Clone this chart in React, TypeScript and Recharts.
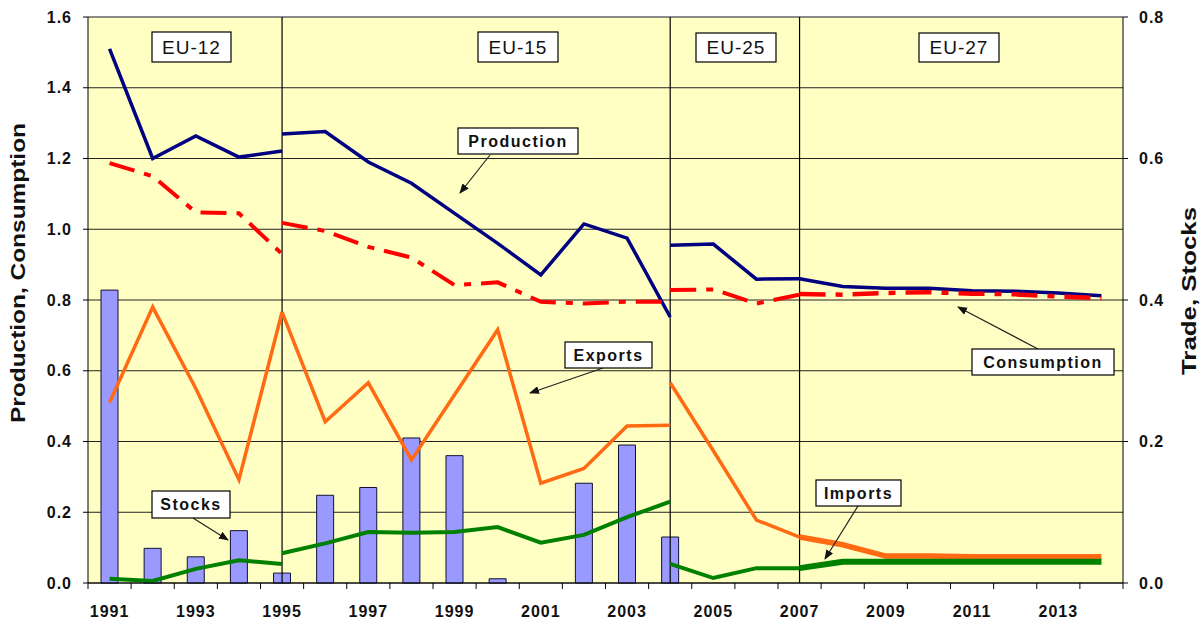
import React from 'react';
import { ComposedChart, Bar, Line, XAxis, YAxis, CartesianGrid, ReferenceLine } from 'recharts';

const years = [
  '1991', '1992', '1993', '1994', '1995', '1996', '1997', '1998', '1999', '2000', '2001', '2002',
  '2003', '2004', '2005', '2006', '2007', '2008', '2009', '2010', '2011', '2012', '2013', '2014',
];

// each era is its own segment: EU-12 1991-95, EU-15 1995-2004, EU-25 2004-07, EU-27 2007-14
const productionEU12 = [1.51, 1.2, 1.264, 1.204, 1.221];
const productionEU15 = [1.269, 1.276, 1.19, 1.13, 1.045, 0.96, 0.871, 1.015, 0.975, 0.752];
const productionEU25 = [0.955, 0.958, 0.859, 0.86];
const productionEU27 = [0.86, 0.838, 0.833, 0.833, 0.826, 0.825, 0.82, 0.812];

const consumptionEU12 = [1.187, 1.15, 1.048, 1.045, 0.93];
const consumptionEU15 = [1.018, 0.995, 0.95, 0.92, 0.842, 0.85, 0.795, 0.79, 0.795, 0.795];
const consumptionEU25 = [0.828, 0.83, 0.79, 0.815];
const consumptionEU27 = [0.817, 0.815, 0.82, 0.822, 0.818, 0.816, 0.81, 0.805];

const exportsEU12 = [0.255, 0.39, 0.275, 0.146, 0.383];
const exportsEU15 = [0.383, 0.228, 0.283, 0.174, 0.266, 0.358, 0.141, 0.162, 0.222, 0.223];
const exportsEU25 = [0.283, 0.187, 0.089, 0.065];
const exportsEU27 = [0.065, 0.054, 0.038, 0.038, 0.037, 0.037, 0.037, 0.037];

const importsEU12 = [0.006, 0.003, 0.02, 0.032, 0.027];
const importsEU15 = [0.042, 0.056, 0.072, 0.071, 0.072, 0.079, 0.057, 0.068, 0.093, 0.115];
const importsEU25 = [0.027, 0.007, 0.021, 0.021];
const importsEU27 = [0.021, 0.03, 0.03, 0.03, 0.03, 0.03, 0.03, 0.03];

const stocks = [
  0.414, 0.049, 0.037, 0.074, 0.014, 0.124, 0.135, 0.205, 0.18, 0.006, null, 0.141,
  0.195, 0.065, null, null, null, null, null, null, null, null, null, null,
];

const leftTicks = [0, 0.2, 0.4, 0.6, 0.8, 1.0, 1.2, 1.4, 1.6];
const rightTicks = [0, 0.2, 0.4, 0.6, 0.8];

const W = 1203;
const H = 621;
const PLOT_LEFT = 88;
const PLOT_RIGHT = 1123;
const PLOT_TOP = 17;
const PLOT_BOTTOM = 583;
const BAND = (PLOT_RIGHT - PLOT_LEFT) / years.length;
const FONT = '"Liberation Sans", Arial, sans-serif';

const place = (values: number[], start: string) => {
  const s = years.indexOf(start);
  return years.map((_, i) => (i >= s && i - s < values.length ? values[i - s] : null));
};

const series: Record<string, (number | null)[]> = {
  prod12: place(productionEU12, '1991'),
  prod15: place(productionEU15, '1995'),
  prod25: place(productionEU25, '2004'),
  prod27: place(productionEU27, '2007'),
  cons12: place(consumptionEU12, '1991'),
  cons15: place(consumptionEU15, '1995'),
  cons25: place(consumptionEU25, '2004'),
  cons27: place(consumptionEU27, '2007'),
  exp12: place(exportsEU12, '1991'),
  exp15: place(exportsEU15, '1995'),
  exp25: place(exportsEU25, '2004'),
  exp27: place(exportsEU27, '2007'),
  imp12: place(importsEU12, '1991'),
  imp15: place(importsEU15, '1995'),
  imp25: place(importsEU25, '2004'),
  imp27: place(importsEU27, '2007'),
};

const data = years.map((year, i) => {
  const row: Record<string, string | number | null> = { year, stocks: stocks[i] };
  Object.keys(series).forEach((k) => {
    row[k] = series[k][i];
  });
  return row;
});

function YearTick(props: any) {
  const { x, payload, index } = props;
  const left = x - BAND / 2;
  return (
    <g>
      <line x1={left} x2={left} y1={PLOT_BOTTOM} y2={PLOT_BOTTOM + 6} stroke="#000" />
      {index === years.length - 1 && (
        <line x1={x + BAND / 2} x2={x + BAND / 2} y1={PLOT_BOTTOM} y2={PLOT_BOTTOM + 6} stroke="#000" />
      )}
      {index % 2 === 0 && (
        <text
          x={x}
          y={617}
          textAnchor="middle"
          fontFamily={FONT}
          fontWeight="bold"
          fontSize={16}
          letterSpacing={1}
          fill="#111"
        >
          {payload.value}
        </text>
      )}
    </g>
  );
}

const tickStyle = { fontFamily: FONT, fontWeight: 'bold', fontSize: 16, fill: '#111', letterSpacing: 1 };

function Box({ x, y, w, h, text, bold = true, size = 16 }: any) {
  return (
    <g>
      <rect x={x} y={y} width={w} height={h} fill="#fff" stroke="#000" strokeWidth={1.2} />
      <text
        x={x + w / 2}
        y={y + h / 2 + size * 0.36}
        textAnchor="middle"
        fontFamily={FONT}
        fontWeight={bold ? 'bold' : 'normal'}
        fontSize={size}
        letterSpacing={bold ? 1.5 : 1}
        fill="#111"
      >
        {text}
      </text>
    </g>
  );
}

function Arrow({ x1, y1, x2, y2 }: any) {
  return <line x1={x1} y1={y1} x2={x2} y2={y2} stroke="#222" strokeWidth={1.2} markerEnd="url(#head)" />;
}

function Annotations() {
  return (
    <svg width={W} height={H} style={{ position: 'absolute', left: 0, top: 0, pointerEvents: 'none' }}>
      <defs>
        <marker id="head" markerWidth="10" markerHeight="8" refX="9" refY="4" orient="auto" markerUnits="userSpaceOnUse">
          <path d="M0,0 L10,4 L0,8 Z" fill="#111" />
        </marker>
      </defs>
      <text
        transform="translate(25,273) rotate(-90)"
        textAnchor="middle"
        fontFamily={FONT}
        fontWeight="bold"
        fontSize={20}
        textLength={300}
        lengthAdjust="spacingAndGlyphs"
        fill="#111"
      >
        Production, Consumption
      </text>
      <text
        transform="translate(1196,291) rotate(-90)"
        textAnchor="middle"
        fontFamily={FONT}
        fontWeight="bold"
        fontSize={21}
        textLength={168}
        lengthAdjust="spacingAndGlyphs"
        fill="#111"
      >
        Trade, Stocks
      </text>

      <Box x={152} y={32} w={79} h={30} text="EU-12" bold={false} size={19} />
      <Box x={478} y={32} w={80} h={30} text="EU-15" bold={false} size={19} />
      <Box x={696} y={33} w={80} h={29} text="EU-25" bold={false} size={19} />
      <Box x={919} y={33} w={80} h={29} text="EU-27" bold={false} size={19} />

      <Arrow x1={490} y1={155} x2={460} y2={193} />
      <Arrow x1={603} y1={368} x2={530} y2={393} />
      <Arrow x1={1038} y1={349} x2={958} y2={307} />
      <Arrow x1={193} y1={518} x2={228} y2={540} />
      <Arrow x1={858} y1={506} x2={825} y2={559} />

      <Box x={458} y={128} w={120} h={26} text="Production" />
      <Box x={565} y={342} w={87} h={26} text="Exports" />
      <Box x={972} y={349} w={142} h={26} text="Consumption" />
      <Box x={152} y={491} w={78} h={27} text="Stocks" />
      <Box x={816} y={480} w={85} h={26} text="Imports" />
    </svg>
  );
}

const segLine = (key: string, axis: string, color: string, width: number, dash?: string) => (
  <Line
    key={key}
    yAxisId={axis}
    dataKey={key}
    type="linear"
    stroke={color}
    strokeWidth={width}
    strokeDasharray={dash}
    dot={false}
    activeDot={false}
    isAnimationActive={false}
  />
);

export default function App() {
  const NAVY = '#000080';
  const RED = '#FF0000';
  const ORANGE = '#FF6A13';
  const GREEN = '#008000';
  const DASH = '26 10 7 10';
  return (
    <div style={{ position: 'absolute', left: 0, top: 0, width: W, height: H, background: '#fff' }}>
      <ComposedChart
        width={W}
        height={H}
        data={data}
        margin={{ top: PLOT_TOP, right: W - PLOT_RIGHT - 60, bottom: H - PLOT_BOTTOM - 30, left: PLOT_LEFT - 60 }}
        barGap={0}
      >
        <CartesianGrid yAxisId="left" vertical={false} stroke="#222" fill="#FFFFC4" fillOpacity={1} />
        <XAxis
          dataKey="year"
          interval={0}
          height={30}
          tick={<YearTick />}
          tickLine={false}
          axisLine={{ stroke: '#000' }}
        />
        <YAxis
          yAxisId="left"
          width={60}
          domain={[0, 1.6]}
          ticks={leftTicks}
          tickFormatter={(v: number) => v.toFixed(1)}
          tick={tickStyle}
          tickSize={5}
          tickMargin={11}
          axisLine={{ stroke: '#000' }}
          tickLine={{ stroke: '#000' }}
        />
        <YAxis
          yAxisId="right"
          orientation="right"
          width={60}
          domain={[0, 0.8]}
          ticks={rightTicks}
          tickFormatter={(v: number) => v.toFixed(1)}
          tick={tickStyle}
          tickSize={5}
          tickMargin={11}
          axisLine={{ stroke: '#000' }}
          tickLine={{ stroke: '#000' }}
        />
        <ReferenceLine yAxisId="left" y={1.6} stroke="#888" strokeWidth={1.5} />
        <ReferenceLine yAxisId="left" x="1995" stroke="#000" strokeWidth={1.2} />
        <ReferenceLine yAxisId="left" x="2004" stroke="#000" strokeWidth={1.2} />
        <ReferenceLine yAxisId="left" x="2007" stroke="#000" strokeWidth={1.2} />

        <Bar
          yAxisId="right"
          dataKey="stocks"
          barSize={17}
          fill="#9999FF"
          stroke="#111133"
          strokeWidth={1}
          isAnimationActive={false}
        />

        {segLine('prod12', 'left', NAVY, 3.5)}
        {segLine('prod15', 'left', NAVY, 3.5)}
        {segLine('prod25', 'left', NAVY, 3.5)}
        {segLine('prod27', 'left', NAVY, 3.5)}
        {segLine('cons12', 'left', RED, 4, DASH)}
        {segLine('cons15', 'left', RED, 4, DASH)}
        {segLine('cons25', 'left', RED, 4, DASH)}
        {segLine('cons27', 'left', RED, 4.5, DASH)}
        {segLine('exp12', 'right', ORANGE, 3.5)}
        {segLine('exp15', 'right', ORANGE, 3.5)}
        {segLine('exp25', 'right', ORANGE, 3.5)}
        {segLine('exp27', 'right', ORANGE, 5.5)}
        {segLine('imp12', 'right', GREEN, 4)}
        {segLine('imp15', 'right', GREEN, 4)}
        {segLine('imp25', 'right', GREEN, 4)}
        {segLine('imp27', 'right', GREEN, 6)}
      </ComposedChart>
      <Annotations />
    </div>
  );
}
